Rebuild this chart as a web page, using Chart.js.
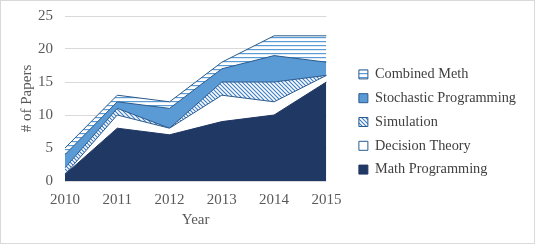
<!DOCTYPE html>
<html>
<head>
<meta charset="utf-8">
<script src="https://cdn.jsdelivr.net/npm/chart.js@4.4.1/dist/chart.umd.min.js"></script>
<style>
  html, body { margin: 0; padding: 0; background: #fff; }
  #wrap { width: 535px; height: 244px; box-sizing: border-box; border: 1px solid #d9d9d9; }
  #wrap canvas { display: block; }
</style>
</head>
<body>
<div id="wrap"><canvas id="papersChart" width="533" height="242"></canvas></div>
<script>
// years on the x axis
var years = ['2010', '2011', '2012', '2013', '2014', '2015'];

// papers per method (stacked, bottom to top)
var mathProgramming = [1, 8, 7, 9, 10, 15];
var decisionTheory = [0, 2, 1, 4, 2, 1];
var simulation = [1, 1, 0, 2, 3, 0];
var stochasticProgramming = [2, 1, 3, 2, 4, 2];
var combinedMeth = [1, 1, 1, 1, 3, 4];

// y axis ticks
var yMin = 0, yMax = 25, yStep = 5;

var edgeColor = '#2a5a8c';
var textColor = '#595959';

// hatch patterns like the excel fills
function makePattern(kind) {
    var c = document.createElement('canvas');
    var g = c.getContext('2d');
    if (kind === 'horizontal') {
        c.width = 8; c.height = 4;
        g.fillStyle = '#ffffff';
        g.fillRect(0, 0, 8, 4);
        g.fillStyle = '#5b9bd5';
        g.fillRect(0, 0, 8, 1.2);
    } else {
        c.width = 4; c.height = 4;
        g.fillStyle = '#ffffff';
        g.fillRect(0, 0, 4, 4);
        g.strokeStyle = '#3f7fc4';
        g.lineWidth = 1.2;
        g.beginPath();
        g.moveTo(-1, -1); g.lineTo(5, 5);
        g.moveTo(-1, 3); g.lineTo(1, 5);
        g.moveTo(3, -1); g.lineTo(5, 1);
        g.stroke();
    }
    return g.createPattern(c, 'repeat');
}

var serif = "'Liberation Serif', 'Times New Roman', serif";

var ctx = document.getElementById('papersChart').getContext('2d');
var papersChart = new Chart(ctx, {
    type: 'line',
    data: {
        labels: years,
        datasets: [{
            label: 'Math Programming',
            data: mathProgramming,
            backgroundColor: '#203864',
            borderColor: '#203864',
            fill: 'origin'
        }, {
            label: 'Decision Theory',
            data: decisionTheory,
            backgroundColor: '#ffffff',
            borderColor: edgeColor,
            fill: '-1'
        }, {
            label: 'Simulation',
            data: simulation,
            backgroundColor: makePattern('diagonal'),
            borderColor: edgeColor,
            fill: '-1'
        }, {
            label: 'Stochastic Programming',
            data: stochasticProgramming,
            backgroundColor: '#5b9bd5',
            borderColor: edgeColor,
            fill: '-1'
        }, {
            label: 'Combined Meth',
            data: combinedMeth,
            backgroundColor: makePattern('horizontal'),
            borderColor: edgeColor,
            fill: '-1'
        }]
    },
    options: {
        responsive: false,
        animation: false,
        layout: { padding: { top: 0, right: 8, left: 17, bottom: 0 } },
        elements: {
            line: { tension: 0, borderWidth: 1 },
            point: { radius: 0 }
        },
        plugins: {
            tooltip: { enabled: false },
            legend: {
                position: 'right',
                reverse: true,
                maxWidth: 240,
                labels: {
                    boxWidth: 9,
                    boxHeight: 9,
                    padding: 9.5,
                    color: '#404040',
                    font: { family: serif, size: 14.3 }
                }
            }
        },
        scales: {
            x: {
                offset: false,
                grid: { display: false },
                border: { display: false },
                ticks: { color: textColor, padding: 2, font: { family: serif, size: 15 } },
                title: { display: true, text: 'Year', color: textColor, padding: { top: 0, bottom: 14 }, font: { family: serif, size: 15 } }
            },
            y: {
                stacked: true,
                min: yMin,
                max: yMax,
                grid: { color: '#d9d9d9', drawTicks: true, tickLength: 6, tickColor: 'rgba(0,0,0,0)' },
                border: { display: false },
                ticks: { stepSize: yStep, color: textColor, padding: 6, font: { family: serif, size: 15 } },
                title: { display: true, text: '# of Papers', color: textColor, padding: { top: 0, bottom: -4 }, font: { family: serif, size: 15 } }
            },
            // empty spacer axis keeping the gap between plot and legend
            gap: {
                position: 'right',
                display: true,
                grid: { display: false },
                border: { display: false },
                ticks: { display: false },
                afterFit: function (scale) { scale.width = 23; }
            }
        }
    }
});
</script>
</body>
</html>
